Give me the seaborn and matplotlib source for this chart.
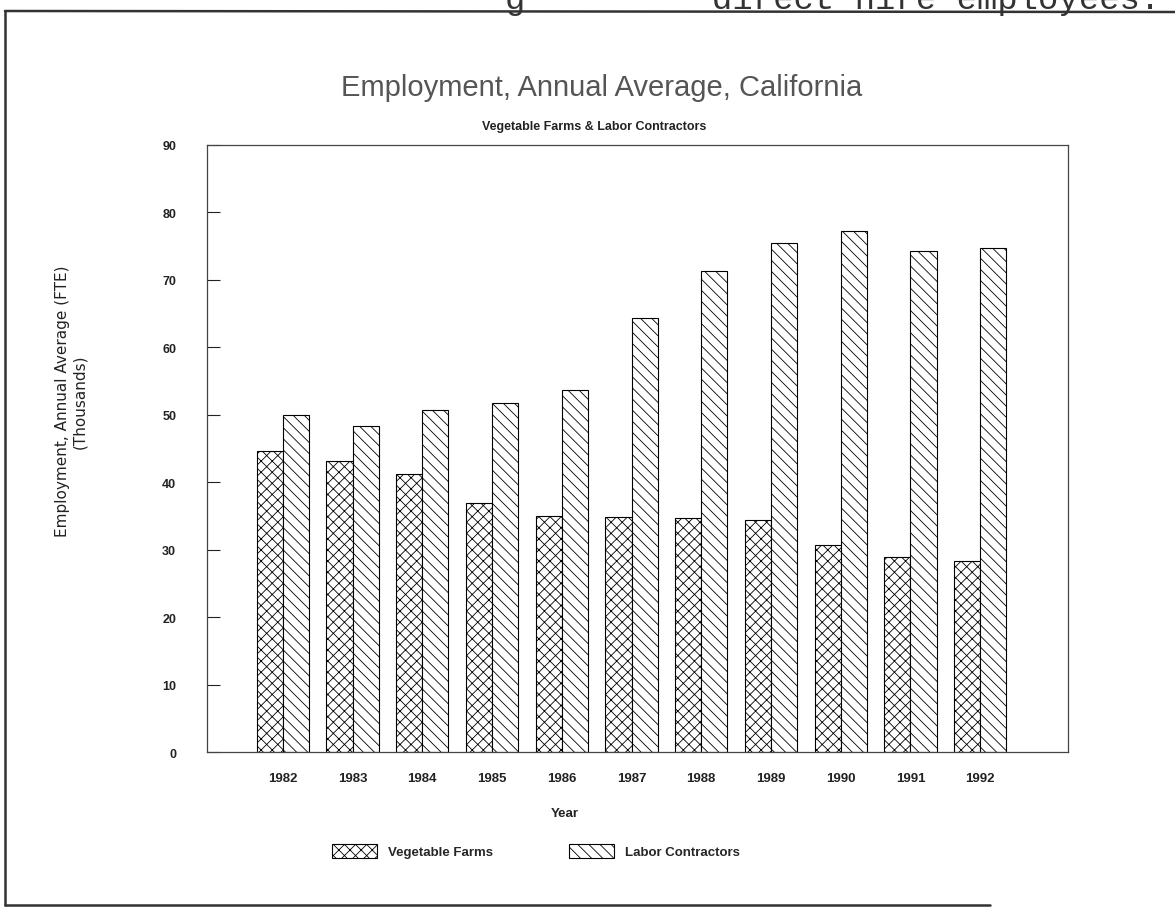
import matplotlib
matplotlib.use("Agg")
import matplotlib.pyplot as plt
import seaborn as sns
import pandas as pd
from matplotlib.lines import Line2D

years = ["1982", "1983", "1984", "1985", "1986", "1987", "1988", "1989", "1990", "1991", "1992"]
vegetable_farms = [44.7, 43.2, 41.2, 37.0, 35.0, 34.9, 34.7, 34.4, 30.7, 29.0, 28.3]
labor_contractors = [50.0, 48.4, 50.7, 51.8, 53.7, 64.3, 71.3, 75.4, 77.3, 74.3, 74.8]
series_names = ["Vegetable Farms", "Labor Contractors"]
y_ticks = [0, 10, 20, 30, 40, 50, 60, 70, 80, 90]

df = pd.DataFrame({
    "Year": years * 2,
    "Employment": vegetable_farms + labor_contractors,
    "Series": [series_names[0]] * len(years) + [series_names[1]] * len(years),
})

sns.set_style("white")
plt.rcParams["font.family"] = ["Liberation Sans", "DejaVu Sans"]
plt.rcParams["hatch.linewidth"] = 0.6

fig = plt.figure(figsize=(11.75, 9.12), dpi=100)
ax = fig.add_axes([0.176, 0.174, 0.733, 0.666])

sns.barplot(data=df, x="Year", y="Employment", hue="Series", hue_order=series_names,
            palette=["white", "white"], width=0.75, edgecolor="black", linewidth=0.8,
            legend=False, ax=ax)

hatches = ["xxx", "\\\\\\"]
for cont, h in zip(ax.containers, hatches):
    for p in cont.patches:
        p.set_hatch(h)
        p.set_edgecolor("black")

ax.set_xlim(-1.09, 11.26)
ax.set_ylim(0, 90)
ax.set_yticks(y_ticks)
ax.set_yticklabels([str(t) for t in y_ticks], fontsize=9, fontweight="bold")
ax.set_xticks(range(len(years)))
ax.set_xticklabels(years, fontsize=9.5, fontweight="bold")
ax.tick_params(axis="y", direction="in", length=9, width=0.8, pad=22, left=True, colors="#222")
ax.tick_params(axis="x", length=0, pad=14, colors="#222")
for s in ax.spines.values():
    s.set_visible(True)
    s.set_linewidth(0.9)
    s.set_color("#444")
ax.set_xlabel("")
ax.set_ylabel("")

# y-axis label (two lines)
fig.text(0.053, 0.56, "Employment, Annual Average (FTE)", rotation=90, ha="center", va="center",
         fontsize=11, family=["DejaVu Sans"], color="#222")
fig.text(0.068, 0.56, "(Thousands)", rotation=90, ha="center", va="center",
         fontsize=11, family=["DejaVu Sans"], color="#222")

# titles
fig.text(0.512, 1 - 88 / 912, "Employment, Annual Average, California", ha="center", va="center",
         fontsize=21, color="#555")
fig.text(0.506, 1 - 127 / 912, "Vegetable Farms & Labor Contractors", ha="center", va="center",
         fontsize=9, fontweight="bold", color="#222")
fig.text(0.481, 1 - 814 / 912, "Year", ha="center", va="center", fontsize=9.5, fontweight="bold", color="#222")

leg = fig.legend(handles=list(ax.containers), labels=series_names, loc="center",
                 bbox_to_anchor=(0.456, 1 - 852 / 912), ncol=2, frameon=False,
                 prop={"size": 9.5, "weight": "bold"}, handlelength=3.4, handleheight=1.3,
                 handletextpad=0.8, columnspacing=5.8)

# scanned page: cut-off text line and outer border
fig.text(1160 / 1175, 1 - 9 / 912, "direct hire employees.", ha="right", va="baseline",
         fontsize=24.5, family=["Liberation Mono", "DejaVu Sans Mono"], color="#333")
fig.text(505 / 1175, 1 - 9 / 912, "g", ha="left", va="baseline",
         fontsize=24.5, family=["Liberation Mono", "DejaVu Sans Mono"], color="#333")
W, H = 1175, 912
fig.add_artist(Line2D([5 / W, 1.0], [1 - 12 / H, 1 - 13 / H], transform=fig.transFigure,
                      color="#333", linewidth=1.8))
fig.add_artist(Line2D([5 / W, 5 / W], [1 - 12 / H, 1 - 906 / H], transform=fig.transFigure,
                      color="#333", linewidth=1.8))
fig.add_artist(Line2D([5 / W, 990 / W], [1 - 906 / H, 1 - 906 / H], transform=fig.transFigure,
                      color="#333", linewidth=1.8))

fig.savefig("out.png", dpi=100, facecolor="white")
